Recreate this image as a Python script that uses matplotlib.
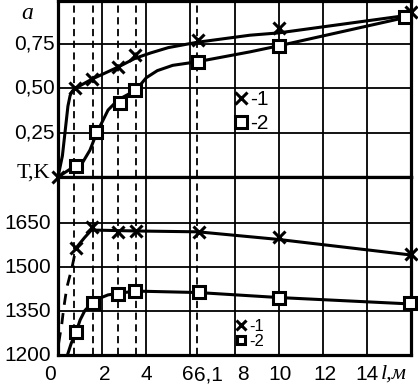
import matplotlib.pyplot as plt
from matplotlib.transforms import blended_transform_factory

# сечения (пунктирные вертикали), м
x_sections = [0.74, 1.59, 2.72, 3.53, 6.3]

# верхний график: степень a
a1_x = [0, 0.78, 1.52, 2.72, 3.5, 6.35, 10, 16]
a1_y = [0.0, 0.50, 0.553, 0.62, 0.69, 0.773, 0.84, 0.93]
a2_x = [0.8, 1.72, 2.8, 3.5, 6.35, 10, 15.75]
a2_y = [0.06, 0.255, 0.42, 0.49, 0.65, 0.74, 0.90]

# линии
a1_line_x = [0, 0.2, 0.45, 0.55, 0.65, 0.78, 1.55, 2.72, 3.5, 4.2, 5.0, 6.3, 8.7, 10, 16]
a1_line_y = [0, 0.12, 0.40, 0.46, 0.485, 0.50, 0.553, 0.62, 0.67, 0.70, 0.73, 0.76, 0.80, 0.813, 0.915]
a2_line_x = [0, 0.77, 1.13, 1.45, 1.77, 2.0, 2.27, 2.72, 3.53, 4.0, 4.5, 5.2, 6.3, 8.7, 10, 15.75]
a2_line_y = [0, 0.062, 0.085, 0.152, 0.254, 0.31, 0.378, 0.435, 0.49, 0.56, 0.60, 0.63, 0.65, 0.706, 0.74, 0.90]

# нижний график: температура T, K
t1_x = [0.82, 1.52, 2.72, 3.53, 6.39, 10, 16]
t1_y = [1565, 1637, 1620, 1623, 1620, 1603, 1544]
t2_x = [0.82, 1.57, 2.72, 3.5, 6.39, 10, 15.95]
t2_y = [1278, 1377, 1408, 1418, 1415, 1394, 1377]

t1_start_x = [0.03, 0.18, 0.25, 0.4, 0.63, 0.82]
t1_start_y = [1240, 1310, 1355, 1430, 1497, 1565]
t1_line_x = [0.82, 1.2, 1.5, 1.6, 3.5, 6.35, 10, 16]
t1_line_y = [1565, 1600, 1625, 1626, 1623, 1620, 1594, 1541]
t2_line_x = [0.45, 0.6, 0.82, 1.0, 1.22, 1.55, 1.9, 2.27, 2.72, 3.5, 6.35, 10, 16]
t2_line_y = [1205, 1240, 1278, 1319, 1352, 1377, 1394, 1405, 1410, 1418, 1413, 1396, 1374]

a_ticks = [0.25, 0.50, 0.75]
a_labels = ['0,25', '0,50', '0,75']
t_ticks = [1200, 1350, 1500, 1650]
t_labels = ['1200', '1350', '1500', '1650']
x_label_pos = [-0.36, 2.1, 4.0, 5.89, 6.82, 8.38, 10.06, 12.1, 14.0]
x_labels = ['0', '2', '4', '6', '6,1', '8', '10', '12', '14']
x_grid = [2, 4, 6, 8, 10, 12, 14]

W, H = 418, 387
fig = plt.figure(figsize=(W / 100, H / 100), dpi=100)
ax1 = fig.add_axes([58 / W, 1 - 177 / H, 353 / W, 176 / H])
ax2 = fig.add_axes([58 / W, 1 - 355 / H, 353 / W, 178 / H])

sans = 'Liberation Sans'
serif = 'Liberation Serif'

for ax in (ax1, ax2):
    ax.set_xlim(0, 16)
    ax.set_xticks([])
    ax.set_yticks([])
    for s in ax.spines.values():
        s.set_linewidth(2.3)
    for xg in x_grid:
        ax.axvline(xg, color='black', lw=1.3, zorder=1)
    for xs in x_sections:
        ax.axvline(xs, color='black', lw=1.3, linestyle=(0, (4, 2.5)), zorder=1)

ax1.set_ylim(0, 0.993)
ax2.set_ylim(1200, 1807)

for yg in a_ticks:
    ax1.axhline(yg, color='black', lw=1.3, zorder=1)
for yg in t_ticks[1:]:
    ax2.axhline(yg, color='black', lw=1.3, zorder=1)

# верх
ax1.plot(a1_line_x, a1_line_y, color='black', lw=2.2, zorder=2, clip_on=False)
ax1.plot(a2_line_x, a2_line_y, color='black', lw=2.2, zorder=2, clip_on=False)
ax1.plot(a1_x, a1_y, 'x', color='black', ms=9, mew=2.2, zorder=3, clip_on=False, label='-1')
ax1.plot(a2_x, a2_y, 's', color='black', mfc='white', ms=8, mew=2.2, zorder=3, clip_on=False, label='-2')

# низ
ax2.plot(t1_start_x, t1_start_y, color='black', lw=2.0, linestyle=(0, (4, 3)), zorder=2)
ax2.plot(t1_line_x, t1_line_y, color='black', lw=2.2, zorder=2, clip_on=False)
ax2.plot(t2_line_x, t2_line_y, color='black', lw=2.2, zorder=2, clip_on=False)
ax2.plot(t1_x, t1_y, 'x', color='black', ms=9, mew=2.2, zorder=3, clip_on=False, label='-1')
ax2.plot(t2_x, t2_y, 's', color='black', mfc='white', ms=8, mew=2.2, zorder=3, clip_on=False, label='-2')

ax1.legend(loc='upper left', bbox_to_anchor=(0.50, 0.495), frameon=False,
           handlelength=0.6, handletextpad=0.15, labelspacing=0.25, borderpad=0,
           borderaxespad=0, prop={'family': sans, 'size': 15})
ax2.legend(loc='upper left', bbox_to_anchor=(0.505, 0.205), frameon=False,
           handlelength=0.6, handletextpad=0.15, labelspacing=0.0, borderpad=0,
           borderaxespad=0, prop={'family': sans, 'size': 12}, markerscale=0.8)

# подписи осей
tr1 = blended_transform_factory(ax1.transAxes, ax1.transData)
for v, lab in zip(a_ticks, a_labels):
    ax1.text(-0.009, v, lab, transform=tr1, ha='right', va='center',
             family=sans, fontsize=15)
ax1.text(-0.088, 0.925, 'a', transform=tr1, ha='center', va='center',
         family=serif, style='italic', fontsize=17)
ax1.text(-0.022, 0.02, 'T,K', transform=tr1, ha='right', va='center',
         family=serif, fontsize=16)

tr2 = blended_transform_factory(ax2.transAxes, ax2.transData)
for v, lab in zip(t_ticks, t_labels):
    ax2.text(-0.02, v, lab, transform=tr2, ha='right', va='center',
             family=sans, fontsize=15)

trx = blended_transform_factory(ax2.transData, ax2.transAxes)
for v, lab in zip(x_label_pos, x_labels):
    ax2.text(v, -0.112, lab, transform=trx, ha='center', va='center',
             family=sans, fontsize=15)
ax2.text(15.22, -0.105, 'l,м', transform=trx, ha='center', va='center',
         family=serif, style='italic', fontsize=16)

fig.savefig('out.png', dpi=100)
